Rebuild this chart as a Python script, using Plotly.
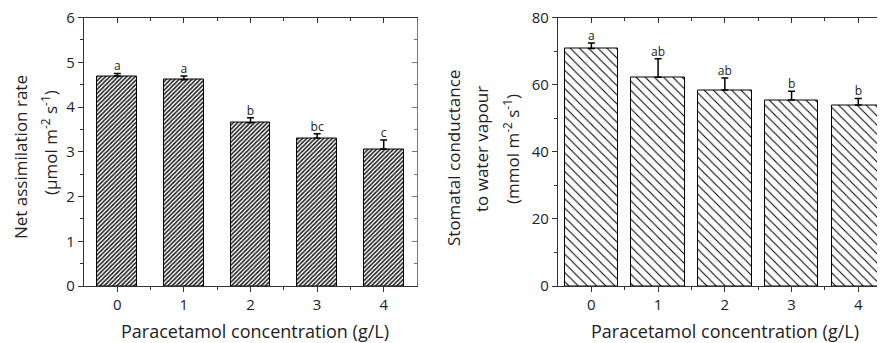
import plotly.graph_objects as go

# ---- data ----
conc = [0, 1, 2, 3, 4]
conc_labels = ["0", "1", "2", "3", "4"]
net_assim = [4.69, 4.61, 3.65, 3.30, 3.06]
net_assim_err = [0.06, 0.08, 0.11, 0.10, 0.20]
net_assim_letters = ["a", "a", "b", "bc", "c"]
stomatal = [70.8, 62.2, 58.4, 55.4, 53.9]
stomatal_err = [1.6, 5.5, 3.6, 2.6, 2.0]
stomatal_letters = ["a", "ab", "ab", "b", "b"]

# the page places the figure 8px from the window's top-left corner
OFF = 8
W, H = 885 - OFF, 343 - OFF
FONT = "Open Sans"
AX = "#333333"

def px_x(p):
    return (p - OFF) / W

def px_y(p):
    return (H - (p - OFF)) / H

fig = go.Figure()

# left bars
fig.add_trace(go.Bar(
    x=conc, y=net_assim, width=0.6,
    marker=dict(color="white", line=dict(color="black", width=1),
                pattern=dict(shape="/", size=3, solidity=0.5, fgcolor="#1a1a1a", bgcolor="white")),
    error_y=dict(type="data", symmetric=False, array=net_assim_err,
                 arrayminus=[0] * len(conc), color="black", thickness=1.5, width=3.5),
    xaxis="x", yaxis="y", showlegend=False))
fig.add_trace(go.Scatter(
    x=conc, y=[v + e for v, e in zip(net_assim, net_assim_err)],
    mode="text", text=net_assim_letters, textposition="top center",
    textfont=dict(family=FONT, size=12, color="#222"),
    xaxis="x", yaxis="y", showlegend=False))

# right bars
fig.add_trace(go.Bar(
    x=conc, y=stomatal, width=0.8,
    marker=dict(color="white", line=dict(color="black", width=1),
                pattern=dict(shape="\\", size=6.5, solidity=0.16, fgcolor="black", bgcolor="white")),
    error_y=dict(type="data", symmetric=False, array=stomatal_err,
                 arrayminus=[0] * len(conc), color="black", thickness=1.5, width=3.5),
    xaxis="x2", yaxis="y2", showlegend=False))
fig.add_trace(go.Scatter(
    x=conc, y=[v + e for v, e in zip(stomatal, stomatal_err)],
    mode="text", text=stomatal_letters, textposition="top center",
    textfont=dict(family=FONT, size=12, color="#222"),
    xaxis="x2", yaxis="y2", showlegend=False))

# dummy traces for mirror axes (inside ticks)
fig.add_trace(go.Scatter(x=[None], y=[None], xaxis="x3", yaxis="y3", showlegend=False))
fig.add_trace(go.Scatter(x=[None], y=[None], xaxis="x4", yaxis="y4", showlegend=False))

ydom = [px_y(286), px_y(17.5)]
dom1 = [px_x(84), px_x(417)]
dom2 = [px_x(558), 1.0]
xr1 = [-0.5, 4.5]
xr2 = [-0.5, 4.4]
yr1 = [0, 6]
yr2 = [0, 80]

tickfont = dict(family=FONT, size=15, color="#222")

def xbase(dom, rng, anchor):
    return dict(domain=dom, range=rng, anchor=anchor, tickvals=conc, ticktext=conc_labels,
                ticks="outside", ticklen=5, tickwidth=1, tickcolor=AX, automargin=False,
                showline=True, linecolor=AX, linewidth=1.2, showgrid=False, zeroline=False,
                tickfont=tickfont, ticklabeloverflow="allow",
                minor=dict(tickvals=[0.5, 1.5, 2.5, 3.5], ticks="outside", ticklen=3,
                           tickcolor=AX, showgrid=False))

def xtop(dom, rng, anchor, over):
    return dict(domain=dom, range=rng, anchor=anchor, overlaying=over, side="top",
                tickvals=conc, ticks="inside", ticklen=5, tickcolor=AX, showticklabels=False,
                automargin=False,
                showline=True, linecolor=AX, linewidth=1.2, showgrid=False, zeroline=False,
                minor=dict(tickvals=[0.5, 1.5, 2.5, 3.5], ticks="inside", ticklen=3,
                           tickcolor=AX, showgrid=False))

fig.update_layout(
    template="none",
    width=W, height=H,
    margin=dict(l=0, r=0, t=0, b=0, pad=0, autoexpand=False),
    paper_bgcolor="white", plot_bgcolor="white",
    font=dict(family=FONT, color="#222"),
    bargap=0,
    xaxis=xbase(dom1, xr1, "y"),
    yaxis=dict(domain=ydom, range=yr1, anchor="x", dtick=1, ticks="outside", ticklen=5,
               tickcolor=AX, showline=True, linecolor=AX, linewidth=1.2, showgrid=False,
               zeroline=False, tickfont=tickfont, automargin=False, ticklabeloverflow="allow",
               minor=dict(dtick=0.5, ticks="outside", ticklen=3, tickcolor=AX, showgrid=False)),
    xaxis2=xbase(dom2, xr2, "y2"),
    yaxis2=dict(domain=ydom, range=yr2, anchor="x2", dtick=20, ticks="outside", ticklen=5,
                tickcolor=AX, showline=True, linecolor=AX, linewidth=1.2, showgrid=False,
                zeroline=False, tickfont=tickfont, automargin=False, ticklabeloverflow="allow",
                minor=dict(dtick=10, ticks="outside", ticklen=3, tickcolor=AX, showgrid=False)),
    xaxis3=xtop(dom1, xr1, "y3", "x"),
    yaxis3=dict(domain=ydom, range=yr1, anchor="x3", overlaying="y", side="right",
                dtick=1, ticks="inside", ticklen=5, tickcolor="#777", showticklabels=False,
                automargin=False,
                showline=True, linecolor="#777", linewidth=1.2, showgrid=False, zeroline=False,
                minor=dict(dtick=0.5, ticks="inside", ticklen=3, tickcolor="#777", showgrid=False)),
    xaxis4=xtop(dom2, xr2, "y4", "x2"),
    yaxis4=dict(domain=ydom, range=yr2, anchor="x4", overlaying="y2", side="right",
                showticklabels=False, ticks="", showline=False, showgrid=False, zeroline=False,
                automargin=False),
)

tfont = dict(family=FONT, size=17, color="#222")
ann = [
    ("Net assimilation rate", 20, 157),
    ("(μmol m<sup>-2</sup> s<sup>-1</sup>)", 49, 143),
    ("Stomatal conductance", 453, 158),
    ("to water vapour", 481, 149),
    ("(mmol m<sup>-2</sup> s<sup>-1</sup>)", 511, 149),
]
for txt, xp, yp in ann:
    fig.add_annotation(text=txt, xref="paper", yref="paper", x=px_x(xp), y=px_y(yp),
                       xanchor="center", yanchor="middle", textangle=-90,
                       showarrow=False, font=tfont)
xfont = dict(family=FONT, size=18, color="#222")
for xp in [255, 725]:
    fig.add_annotation(text="Paracetamol concentration (g/L)", xref="paper", yref="paper",
                       x=px_x(xp), y=px_y(331), xanchor="center", yanchor="middle",
                       showarrow=False, font=xfont)

fig.write_html("out.html")
